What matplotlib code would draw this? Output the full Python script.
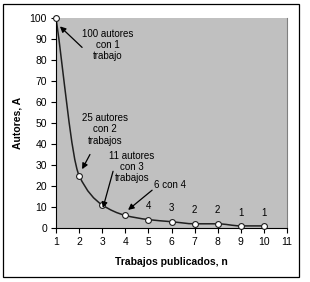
import numpy as np
import matplotlib
matplotlib.use("Agg")
import matplotlib.pyplot as plt
from matplotlib.path import Path
from matplotlib.patches import PathPatch, Rectangle

plt.rcParams['font.family'] = ['Liberation Sans', 'DejaVu Sans']

# datos: ley de Lotka
n = np.array([1, 2, 3, 4, 5, 6, 7, 8, 9, 10])
A = np.array([100, 25, 11, 6, 4, 3, 2, 2, 1, 1])

notas = ["100 autores\ncon 1\ntrabajo", "25 autores\ncon 2\ntrabajos",
         "11 autores\ncon 3\ntrabajos", "6 con 4"]
nota_xy = [(3.25, 87), (3.12, 47), (4.29, 29), (5.94, 20.5)]
flecha_desde = [(2.13, 86), (2.47, 35), (3.47, 27), (5.16, 18)]
flecha_hasta = [(1.17, 96), (2.13, 28), (3.03, 9.5), (4.12, 8.6)]


def curva_suave(x, y):
    # tangentes monotonas (Fritsch-Carlson) para una curva tipo Excel
    h = np.diff(x).astype(float)
    d = np.diff(y) / h
    m = np.zeros(len(x))
    m[0] = d[0]
    m[-1] = d[-1]
    for k in range(1, len(x) - 1):
        if d[k-1] * d[k] <= 0:
            m[k] = 0.0
        else:
            m[k] = 2.0 / (1.0 / d[k-1] + 1.0 / d[k])
    verts = [(x[0], y[0])]
    codes = [Path.MOVETO]
    for k in range(len(x) - 1):
        verts += [(x[k] + h[k]/3, y[k] + m[k]*h[k]/3),
                  (x[k+1] - h[k]/3, y[k+1] - m[k+1]*h[k]/3),
                  (x[k+1], y[k+1])]
        codes += [Path.CURVE4] * 3
    return Path(verts, codes)


fig = plt.figure(figsize=(3.10, 2.82), dpi=100)
fig.patch.set_facecolor('white')
fig.patches.append(Rectangle((3/310, 5/282), 296/310, 273/282,
                             transform=fig.transFigure, fill=False,
                             edgecolor='black', linewidth=0.9))

ax = fig.add_axes([56/310, 54/282, 231/310, 210/282])
ax.set_facecolor('#c0c0c0')

ax.add_patch(PathPatch(curva_suave(n, A), fill=False, edgecolor='#202020',
                       linewidth=1.1, zorder=2))
ax.plot(n, A, linestyle='none', marker='o', markersize=4.2,
        markerfacecolor='white', markeredgecolor='#202020',
        markeredgewidth=0.8, zorder=3, clip_on=False)

for xi, yi in zip(n[4:], A[4:]):
    ax.annotate(str(yi), (xi, yi), xytext=(0, 6), textcoords='offset points',
                ha='center', va='bottom', fontsize=7)

for t, p, a, b in zip(notas, nota_xy, flecha_desde, flecha_hasta):
    ax.text(p[0], p[1], t, ha='center', va='center', fontsize=7,
            linespacing=1.15)
    ax.annotate('', xy=b, xytext=a,
                arrowprops=dict(arrowstyle='-|>', color='black', lw=0.9,
                                mutation_scale=8.5, shrinkA=0, shrinkB=0))

ax.set_xlim(1, 11)
ax.set_ylim(0, 100)
ax.set_xticks(range(1, 12))
ax.set_yticks(range(0, 101, 10))
ax.tick_params(direction='out', length=3.5, width=0.8, labelsize=7.5,
               pad=3, colors='black')
ax.spines['top'].set_visible(False)
ax.spines['right'].set_color('#808080')
ax.spines['left'].set_linewidth(0.8)
ax.spines['bottom'].set_linewidth(0.8)

ax.set_xlabel('Trabajos publicados, n', fontsize=7.5, fontweight='bold',
              labelpad=7)
ax.set_ylabel('Autores, A', fontsize=7.5, fontweight='bold', labelpad=5)

fig.savefig('out.png', dpi=100)
